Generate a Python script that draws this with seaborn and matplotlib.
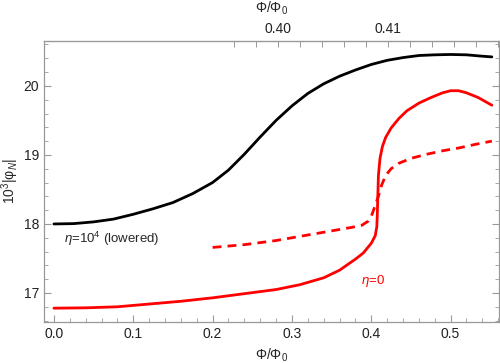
import matplotlib
matplotlib.use("Agg")
import matplotlib.pyplot as plt
import numpy as np
import pandas as pd
import seaborn as sns
from matplotlib.ticker import FixedLocator, MultipleLocator, FormatStrFormatter

# eta = 10^4 (lowered), black
black_x = [0.0, 0.025, 0.05, 0.075, 0.10, 0.125, 0.15, 0.175, 0.20, 0.22, 0.24, 0.26,
           0.28, 0.30, 0.32, 0.34, 0.36, 0.38, 0.40, 0.42, 0.44, 0.46, 0.48, 0.50,
           0.52, 0.54, 0.552]
black_y = [18.00, 18.005, 18.03, 18.07, 18.14, 18.22, 18.31, 18.44, 18.60, 18.78, 19.01,
           19.26, 19.50, 19.71, 19.89, 20.03, 20.14, 20.23, 20.31, 20.37, 20.41, 20.44,
           20.45, 20.455, 20.45, 20.43, 20.42]

# eta = 0, solid red
red_x = [0.0, 0.04, 0.08, 0.12, 0.16, 0.20, 0.24, 0.28, 0.31, 0.34, 0.36, 0.38, 0.39,
         0.40, 0.405, 0.407, 0.4075, 0.408, 0.4085, 0.409, 0.411, 0.414, 0.418, 0.425,
         0.435, 0.445, 0.46, 0.475, 0.49, 0.50, 0.51, 0.52, 0.535, 0.552]
red_y = [16.78, 16.785, 16.80, 16.84, 16.88, 16.93, 16.99, 17.05, 17.12, 17.22, 17.33,
         17.49, 17.58, 17.72, 17.83, 17.96, 18.10, 18.30, 18.50, 18.70, 18.95, 19.12,
         19.25, 19.39, 19.53, 19.64, 19.75, 19.83, 19.90, 19.93, 19.93, 19.90, 19.83,
         19.72]

# dashed red
dash_x = [0.20, 0.24, 0.28, 0.32, 0.35, 0.375, 0.388, 0.396, 0.401, 0.405, 0.409, 0.413,
          0.418, 0.425, 0.435, 0.45, 0.47, 0.49, 0.51, 0.53, 0.552]
dash_y = [17.66, 17.70, 17.76, 17.84, 17.90, 17.95, 17.98, 18.04, 18.14, 18.27, 18.40,
          18.56, 18.70, 18.80, 18.88, 18.95, 19.01, 19.06, 19.10, 19.15, 19.20]

top_major = [0.40, 0.41]
top_minor = [0.396, 0.398, 0.402, 0.404, 0.406, 0.408, 0.412, 0.414, 0.416, 0.418, 0.420]

sns.set_style("white")
plt.rcParams["font.family"] = ["Liberation Sans", "DejaVu Sans"]
plt.rcParams["mathtext.fontset"] = "custom"
plt.rcParams["mathtext.rm"] = "Liberation Sans"
plt.rcParams["mathtext.it"] = "Liberation Sans:italic"

gray = "#999999"
fig = plt.figure(figsize=(5.0, 3.63), dpi=100)
ax = fig.add_axes([0.088, 0.113, 0.910, 0.774])

sns.lineplot(data=pd.DataFrame({"x": black_x, "y": black_y}), x="x", y="y", ax=ax,
             color="black", lw=2.0, sort=False)
sns.lineplot(data=pd.DataFrame({"x": red_x, "y": red_y}), x="x", y="y", ax=ax,
             color="red", lw=2.0, sort=False)
sns.lineplot(data=pd.DataFrame({"x": dash_x, "y": dash_y}), x="x", y="y", ax=ax,
             color="red", lw=2.0, sort=False, dashes=False, linestyle=(0, (3.2, 2.2)))

ax.set_xlim(-0.0125, 0.561)
ax.set_ylim(16.58, 20.65)
ax.xaxis.set_major_locator(MultipleLocator(0.1))
ax.xaxis.set_minor_locator(MultipleLocator(0.02))
ax.xaxis.set_major_formatter(FormatStrFormatter("%.1f"))
ax.yaxis.set_major_locator(MultipleLocator(1))
ax.yaxis.set_minor_locator(MultipleLocator(0.2))
ax.tick_params(which="both", direction="in", color=gray, labelsize=10, labelcolor="#222222",
               bottom=True, left=True, right=True, top=False)
ax.tick_params(which="major", length=5, width=0.8)
ax.tick_params(which="minor", length=3, width=0.6)
for s in ax.spines.values():
    s.set_color(gray)
    s.set_linewidth(0.9)

ax.set_xlabel("Φ/Φ$_0$", fontsize=10, labelpad=4)
ax.set_ylabel("10$^3$|φ$_N$|", fontsize=10, labelpad=2)


def fwd(x):
    return 0.40 + (793 * np.asarray(x) - 224) / 11000


def inv(t):
    return (11000 * (np.asarray(t) - 0.40) + 224) / 793


top = ax.secondary_xaxis("top", functions=(fwd, inv))
top.xaxis.set_major_locator(FixedLocator(top_major))
top.xaxis.set_minor_locator(FixedLocator(top_minor))
top.xaxis.set_major_formatter(FormatStrFormatter("%.2f"))
top.tick_params(which="both", direction="in", color=gray, length=4, width=0.7,
                labelsize=10, labelcolor="#222222")
top.spines["top"].set_color(gray)
top.set_xlabel("Φ/Φ$_0$", fontsize=10, labelpad=7)

ax.text(0.013, 17.78, r"$\eta$=10$^4$ (lowered)", fontsize=9.5, va="center", ha="left")
ax.text(0.387, 17.18, r"$\eta$=0", fontsize=9.5, va="center", ha="left", color="red")

fig.savefig("out.png", dpi=100)
